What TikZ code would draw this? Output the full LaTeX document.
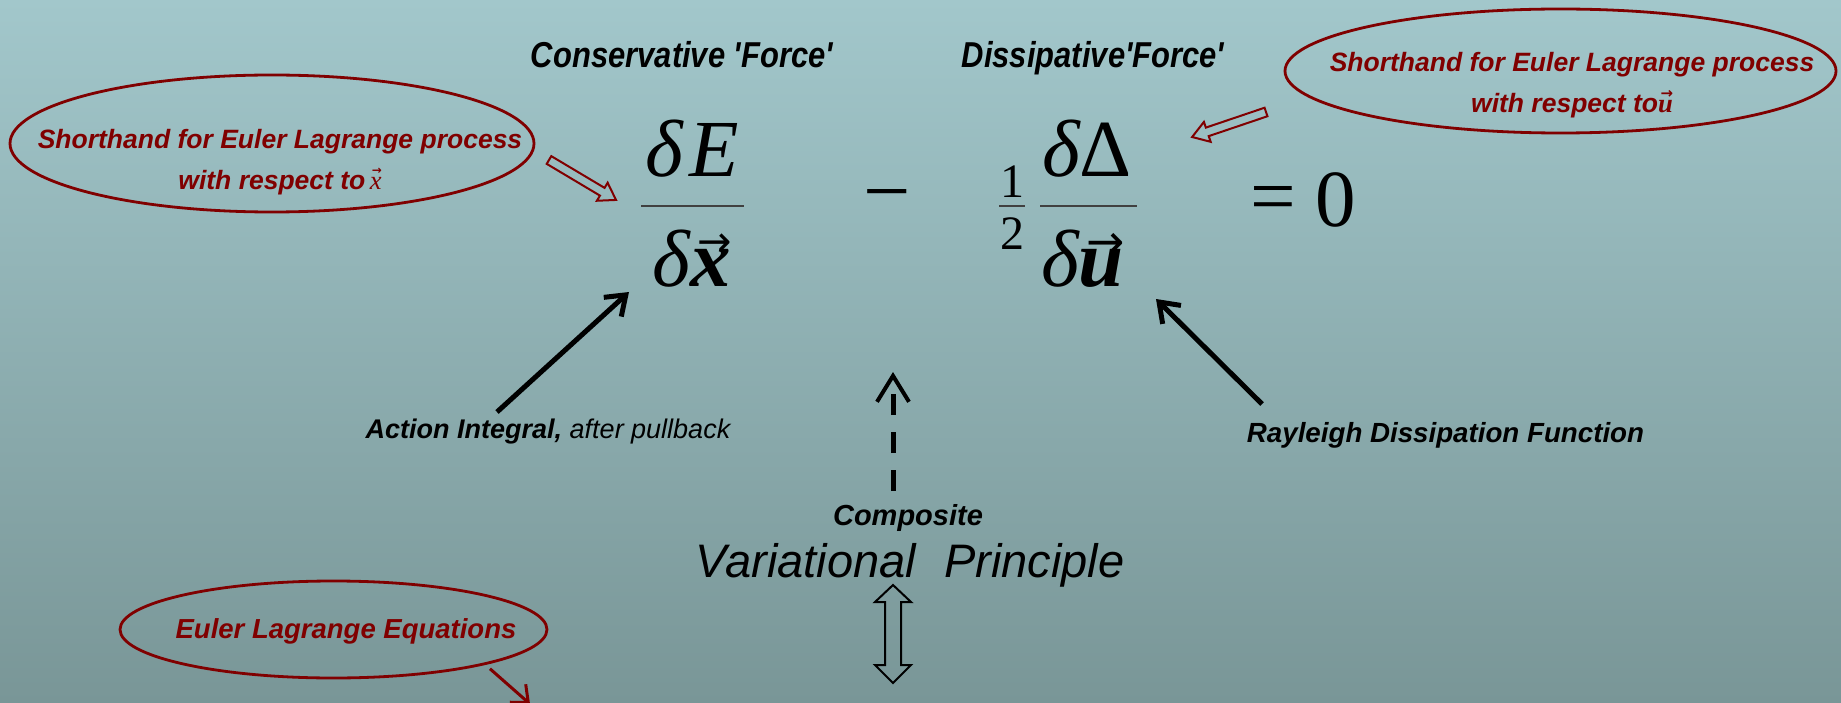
\documentclass[tikz,border=0pt]{standalone}
\usepackage{fontspec}
\setmainfont{Liberation Sans}
\newfontfamily\tnr{Liberation Serif}
\newfontfamily\djv{DejaVu Sans}
\usetikzlibrary{arrows.meta,shapes.geometric}
\definecolor{dred}{RGB}{128,0,0}
\definecolor{bgtop}{RGB}{162,199,203}
\definecolor{bgbot}{RGB}{121,150,151}
\newcommand{\fsz}[2]{\fontsize{#1}{#2}\selectfont}
\newsavebox{\vobox}
\newcommand{\vecover}[1]{\sbox{\vobox}{#1}\leavevmode\rlap{\raisebox{\dimexpr\ht\vobox+6pt-0.3\wd\vobox\relax}{\makebox[\wd\vobox][c]{\hspace{0.2\wd\vobox}\resizebox{0.85\wd\vobox}{!}{\djv →}}}}\usebox{\vobox}}
\tikzset{
  txt/.style={inner sep=0pt, anchor=base},
  headtxt/.style={txt, font=\bfseries\itshape\fsz{36}{36}},
  redtxt/.style={inner sep=0pt, text=dred, align=center, font=\bfseries\itshape\fsz{26.5}{41}},
  redell/.style={draw=dred, line width=2.8pt, ellipse, inner sep=0pt},
  blkarr/.style={draw=black, line width=5pt, -{Straight Barb[length=18pt,width=26pt]}},
  mth/.style={inner sep=0pt, font=\tnr\fsz{81}{81}},
  fbar/.style={fill=black!75, inner sep=0pt, minimum height=2pt},
  hollow/.pic={\draw[dred, line width=2pt, miter limit=4] (0,-4.5) -- (62,-4.5) -- (62,-10.5) -- (78,0) -- (62,10.5) -- (62,4.5) -- (0,4.5) -- cycle;}
}
\begin{document}
\begin{tikzpicture}[x=1pt,y=-1pt]
\useasboundingbox (0,0) rectangle (1841,703);
\shade[top color=bgtop,bottom color=bgbot] (0,0) rectangle (1841,703);

% headings
\node[headtxt] (hc) at (682,68) {\scalebox{0.86}[1]{Conservative \textquotesingle Force\textquotesingle}};
\node[headtxt] (hd) at (1093,68) {\scalebox{0.86}[1]{Dissipative\textquotesingle Force\textquotesingle}};

% red ellipses
\node[redell, minimum width=524pt, minimum height=137pt] (e1) at (272,143.5) {};
\node[redtxt] (t1) at (280,162) {Shorthand for Euler Lagrange process\\with respect to\,\vecover{\tnr\mdseries\itshape x}};
\node[redell, minimum width=551pt, minimum height=124pt] (e2) at (1560.5,71) {};
\node[redtxt] (t2) at (1572,85) {Shorthand for Euler Lagrange process\\with respect to\vecover{\tnr\bfseries\itshape u}};
\node[redell, minimum width=427pt, minimum height=97pt] (e3) at (333.5,629.5) {};
\node[txt, text=dred, font=\bfseries\itshape\fsz{27.5}{30}] (t3) at (346,638) {Euler Lagrange Equations};

% equation
\node[mth, anchor=base] (nE) at (692.5,177) {\itshape δ\hspace{6pt}E};
\node[fbar, minimum width=103pt] (b1) at (692.5,206) {};
\node[mth, anchor=base] (dX) at (692,287) {\itshape δ\vecover{\bfseries x}};
\node[mth, font=\tnr\fsz{84}{84}] (minus) at (887.5,205) {−};
\node[mth, font=\tnr\fsz{48}{48}, anchor=base] (one) at (1012,198) {1};
\node[fbar, minimum width=26pt, minimum height=1.5pt] (b0) at (1012,206) {};
\node[mth, font=\tnr\fsz{48}{48}, anchor=base] (two) at (1012,250) {2};
\node[mth, anchor=base] (nD) at (1087,177) {{\itshape δ}Δ};
\node[fbar, minimum width=97pt] (b2) at (1088.5,206) {};
\node[mth, anchor=base] (dU) at (1082.5,287) {\itshape δ\vecover{\bfseries u}};
\node[mth] (eq) at (1273,205) {=};
\node[mth, anchor=base] (zero) at (1335.5,227) {0};

% hollow red arrows
\pic (ha1) [rotate=-30.8] at (549,160) {hollow};
\pic (ha2) [rotate=198.7] at (1266,112) {hollow};

% labels and black arrows
\node[txt, font=\itshape\fsz{27}{30}] (act) at (548,438) {{\bfseries Action Integral,} after pullback};
\coordinate (aS) at (497,412);
\coordinate (aT) at (629,292);
\draw[blkarr] (aS) -- (aT);
\node[txt, font=\bfseries\itshape\fsz{27.7}{30}] (ray) at (1445.5,442) {Rayleigh Dissipation Function};
\coordinate (rS) at (1262,404);
\coordinate (rT) at (1156,299);
\draw[blkarr] (rS) -- (rT);

% composite variational principle
\node[txt, font=\bfseries\itshape\fsz{29}{30}] (comp) at (908,525) {Composite};
\node[txt, font=\itshape\fsz{47}{50}] (var) at (910,577) {Variational\hspace{0.6em}Principle};
\coordinate (cS) at (893,491);
\coordinate (cT) at (893,372);
\draw[line width=5pt, dash pattern=on 21pt off 17pt, -{Straight Barb[length=26pt,width=32pt,line width=4pt]}] (cS) -- (cT);

% double hollow arrow
\draw[line width=2pt] (893,585) -- (911,602) -- (901,602) -- (901,665) -- (911,665) -- (893,683) -- (875,665) -- (885,665) -- (885,602) -- (875,602) -- cycle;

% Euler Lagrange arrow
\coordinate (eT) at (530,704);
\draw[dred, line width=3pt, shorten <=6pt, -{Straight Barb[length=14pt,width=24pt]}] (e3.south east) -- (eT);
\end{tikzpicture}
\end{document}
